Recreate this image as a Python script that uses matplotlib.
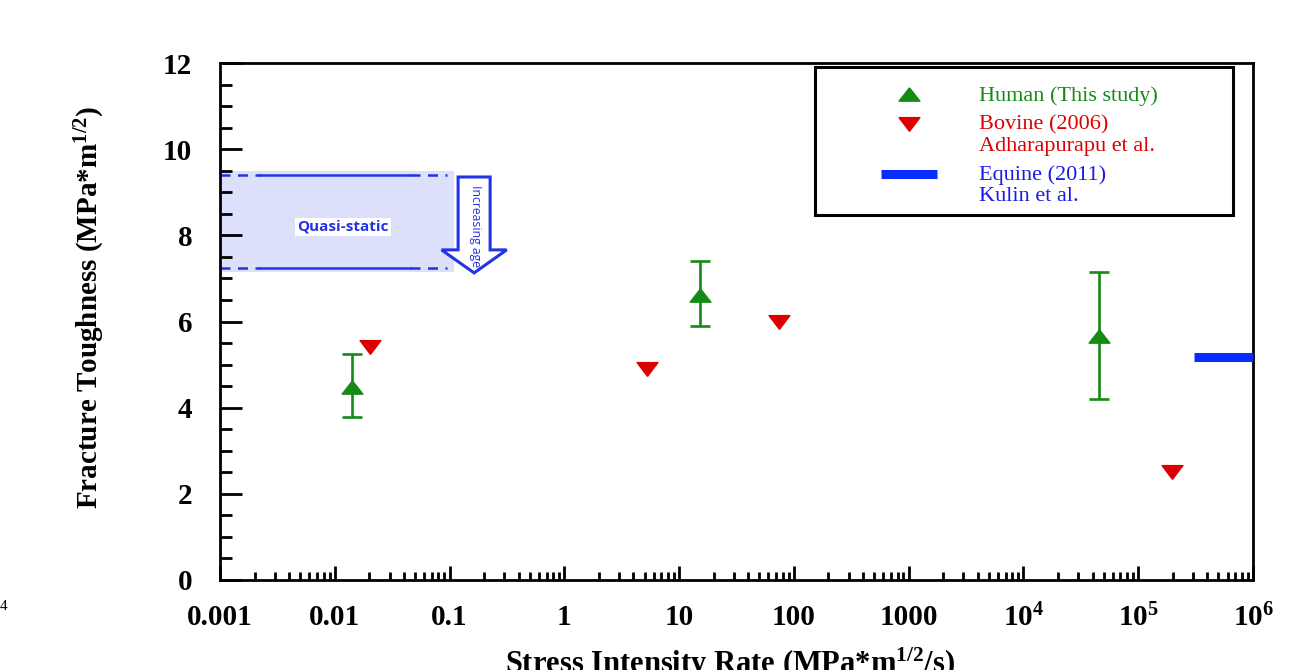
import numpy as np
import matplotlib
matplotlib.use("Agg")
import matplotlib.pyplot as plt
from matplotlib.ticker import FixedLocator, MultipleLocator, LogLocator, NullFormatter
from matplotlib.patches import Rectangle, FancyArrow
from matplotlib.lines import Line2D
from matplotlib.legend_handler import HandlerLine2D

# ---------------- data ----------------
human_rate = [0.0141, 15.2, 45400]
human_k = [4.48, 6.62, 5.66]
human_err_low = [0.70, 0.72, 1.46]
human_err_high = [0.77, 0.78, 1.49]

bovine_rate = [0.0203, 5.25, 74, 196000]
bovine_k = [5.41, 4.90, 5.99, 2.51]

equine_rate = [3.05e5, 1.0e6]
equine_k = [5.18, 5.18]

quasi_rate = [0.001, 0.1]
quasi_k = [7.24, 9.40]

xtick_vals = [1e-3, 1e-2, 1e-1, 1, 10, 100, 1000, 1e4, 1e5, 1e6]
xtick_labels = ["0.001", "0.01", "0.1", "1", "10", "100", "1000",
                r"10$^{4}$", r"10$^{5}$", r"10$^{6}$"]
ytick_vals = [0, 2, 4, 6, 8, 10, 12]

# ---------------- style ----------------
plt.rcParams["font.family"] = ["Liberation Serif", "DejaVu Serif"]
plt.rcParams["mathtext.fontset"] = "custom"
plt.rcParams["mathtext.rm"] = "Liberation Serif:bold"
plt.rcParams["mathtext.default"] = "rm"

GREEN = "#158a15"
RED = "#dd0000"
BLUE = "#0a2cff"
QBLUE = "#2233e6"

tri_up = [(0, 0.64), (-1, -0.64), (1, -0.64), (0, 0.64)]
tri_dn = [(0, -0.66), (-1, 0.66), (1, 0.66), (0, -0.66)]


class ShiftedHandler(HandlerLine2D):
    """Legend handle raised to the first line of a two-line label."""
    def __init__(self, shift=0.0, **kw):
        super().__init__(**kw)
        self.shift = shift

    def create_artists(self, legend, orig_handle, xdescent, ydescent, width,
                       height, fontsize, trans):
        return super().create_artists(legend, orig_handle, xdescent,
                                      ydescent - 2 * self.shift, width,
                                      height, fontsize, trans)


fig = plt.figure(figsize=(12.92, 6.70), dpi=100)
ax = fig.add_axes([220 / 1292, 1 - 580 / 670, 1033 / 1292, 517 / 670])

ax.set_xscale("log")
ax.set_xlim(1e-3, 1e6)
ax.set_ylim(0, 12)

# quasi-static band
ax.axhspan(quasi_k[0] - 0.1, quasi_k[1] + 0.1, xmin=0, xmax=0.227,
           facecolor="#dde0fb", edgecolor="none", zorder=1)
for yv in quasi_k:
    ax.plot([quasi_rate[0], 0.00223], [yv, yv], color=QBLUE, lw=1.8,
            dashes=(4, 3), zorder=2)
    ax.plot([0.00223, 0.0452], [yv, yv], color=QBLUE, lw=1.8, zorder=2)
    ax.plot([0.0452, 0.095], [yv, yv], color=QBLUE, lw=1.8,
            dashes=(4, 3), zorder=2)
ax.text(0.0118, 8.2, "Quasi-static", family="Open Sans", weight="bold",
        fontsize=11, color=QBLUE, ha="center", va="center", zorder=3,
        bbox=dict(facecolor="white", edgecolor="none", pad=1.5))

# increasing age arrow
arr = FancyArrow(0.246, 0.7795, 0, -0.1855, width=0.031, head_width=0.063,
                 head_length=0.0445, length_includes_head=True,
                 transform=ax.transAxes, facecolor="white", edgecolor=QBLUE,
                 lw=2.2, zorder=4)
ax.add_patch(arr)
ax.text(0.247, 0.684, "Increasing age", transform=ax.transAxes, rotation=-90,
        family="Open Sans", fontsize=8.8, color=QBLUE, ha="center",
        va="center", zorder=5)

# data
ax.errorbar(human_rate, human_k, yerr=[human_err_low, human_err_high],
            fmt="none", ecolor=GREEN, elinewidth=1.9, capsize=7, capthick=1.9,
            zorder=5)
ax.plot(human_rate, human_k, linestyle="none", marker=tri_up, ms=15,
        color=GREEN, zorder=6)
ax.plot(bovine_rate, bovine_k, linestyle="none", marker=tri_dn, ms=15,
        color=RED, zorder=6)
ax.plot(equine_rate, equine_k, color=BLUE, lw=6.5, solid_capstyle="butt",
        zorder=6, clip_on=False)

# axes styling
for side in ["left", "bottom", "right", "top"]:
    ax.spines[side].set_linewidth(2.0)
    ax.spines[side].set_color("black")

ax.xaxis.set_major_locator(FixedLocator(xtick_vals))
ax.set_xticklabels(xtick_labels)
ax.xaxis.set_minor_locator(LogLocator(base=10, subs=np.arange(2, 10), numticks=50))
ax.xaxis.set_minor_formatter(NullFormatter())
ax.yaxis.set_major_locator(FixedLocator(ytick_vals))
ax.yaxis.set_minor_locator(MultipleLocator(0.5))

ax.tick_params(axis="both", which="both", direction="in", top=False, right=False,
               width=2.0, color="black")
ax.tick_params(axis="y", which="major", length=16, pad=20)
ax.tick_params(axis="y", which="minor", length=8.5)
ax.tick_params(axis="x", which="major", length=10, pad=17)
ax.tick_params(axis="x", which="minor", length=6)
for lab in ax.get_xticklabels() + ax.get_yticklabels():
    lab.set_fontweight("bold")
    lab.set_fontsize(21)

ax.set_ylabel(r"Fracture Toughness (MPa*m$^{\mathrm{1/2}}$)", fontsize=21,
              fontweight="bold")
ax.yaxis.set_label_coords(-0.109, 0.528)
ax.set_xlabel(r"Stress Intensity Rate (MPa*m$^{\mathrm{1/2}}$/s)", fontsize=22,
              fontweight="bold")
ax.xaxis.set_label_coords(0.494, -0.128)

# legend
frame = Rectangle((0.576, 0.706), 0.405, 0.286, transform=ax.transAxes,
                  facecolor="white", edgecolor="black", lw=2.2, zorder=7)
ax.add_patch(frame)
h_human = Line2D([], [], linestyle="none", marker=tri_up, ms=15, color=GREEN)
h_bov = Line2D([], [], linestyle="none", marker=tri_dn, ms=15, color=RED)
h_eq = Line2D([], [], color=BLUE, lw=6.5, solid_capstyle="butt")
leg = ax.legend([h_human, h_bov, h_eq],
                ["Human (This study)", "Bovine (2006)\nAdharapurapu et al.",
                 "Equine (2011)\nKulin et al."],
                handler_map={h_bov: ShiftedHandler(shift=8.0),
                             h_eq: ShiftedHandler(shift=8.0)},
                loc="upper left", bbox_to_anchor=(0.640, 0.956),
                frameon=False, fontsize=16, handlelength=2.5,
                handletextpad=1.9, labelspacing=0.42, borderaxespad=0,
                borderpad=0, labelcolor=[GREEN, RED, "#1a1ae6"])
for t in leg.get_texts():
    t.set_linespacing(1.16)
leg.set_zorder(8)

fig.text(0.0, 0.095, "4", fontsize=11, ha="left", va="center")

fig.savefig("out.png", dpi=100)
